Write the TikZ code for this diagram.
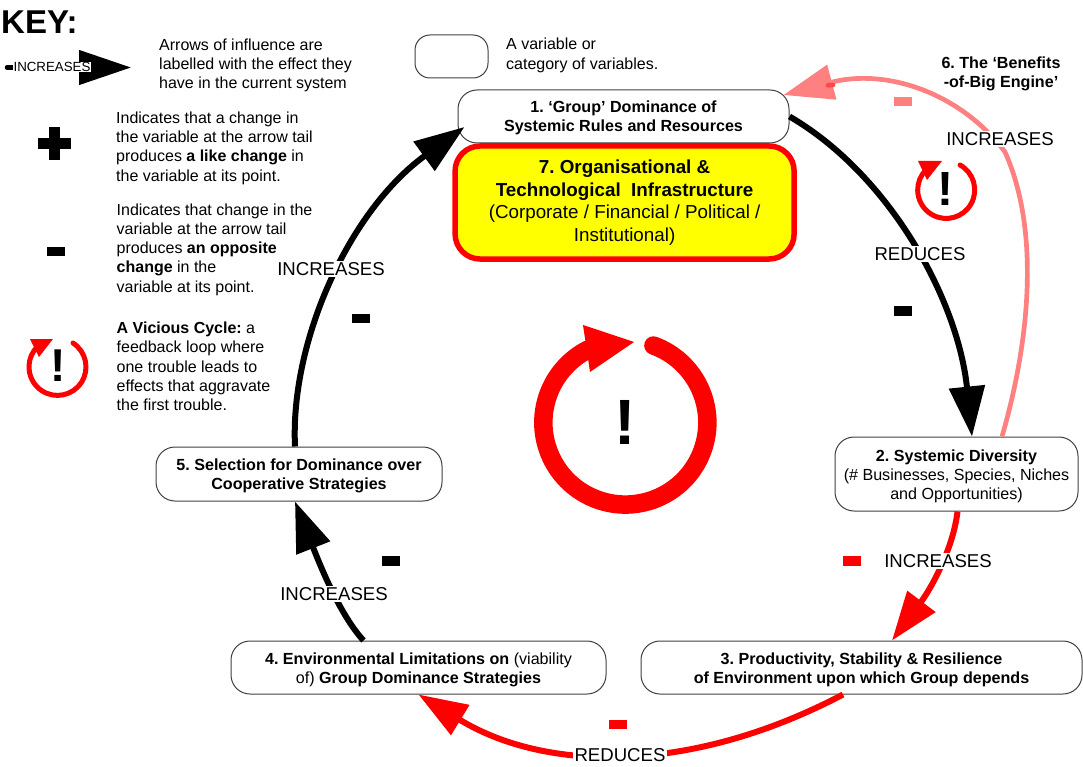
\documentclass[tikz,border=0pt]{standalone}
\usepackage{fontspec}
\setmainfont{Liberation Sans}
\usetikzlibrary{arrows.meta,calc}
\frenchspacing
\definecolor{pinkarrow}{HTML}{FF8080}
\definecolor{pinkdark}{HTML}{FF4848}
\definecolor{fillyellow}{HTML}{FFFF00}
\definecolor{pure red}{HTML}{FF0000}
\newcommand{\keytext}{\fontsize{16}{19.3}\selectfont}
\newcommand{\boxtext}{\fontsize{16.1}{19.3}\selectfont}
\newcommand{\labeltext}{\fontsize{18.6}{22}\selectfont}
\newcommand{\lowerA}{\rule{0pt}{15pt}}
\newcommand{\lowerB}{\rule{0pt}{16pt}}
\tikzset{
  varbox/.style={draw=black!75,line width=1pt,rounded corners=19pt,fill=white,inner sep=0pt,align=center,font=\boxtext},
  keynote/.style={anchor=west,align=left,inner sep=0pt,font=\keytext},
  effect/.style={fill=white,inner sep=1.5pt,font=\labeltext,text=black},
  blackarrow/.style={draw=black,line width=6pt,-{Triangle[length=50pt,width=35pt]}},
  redarrow/.style={draw=pure red,line width=6pt,-{Triangle[length=49pt,width=34pt]}},
  pinkline/.style={draw=pinkarrow,line width=4.7pt,-{Triangle[length=50pt,width=35pt]}},
  signbar/.style={draw=none,fill=#1,inner sep=0pt,minimum width=18pt,minimum height=9.5pt},
  signbar/.default=black,
  cycle/.style={draw=pure red,line cap=round},
}
\begin{document}
\begin{tikzpicture}[x=1pt,y=-1pt]
\useasboundingbox (0,0) rectangle (1083,767);
% boxes
\node[varbox,minimum width=73pt,minimum height=43pt,rounded corners=15pt] (keybox) at (451.5,56.5) {};
\node[varbox,minimum width=331pt,minimum height=53pt] (n1) at (623.5,116.5) {\lowerA\textbf{1. ‘Group’ Dominance of}\\\textbf{Systemic Rules and Resources}};
\node[varbox,draw=pure red,line width=5.5pt,fill=fillyellow,rounded corners=25pt,minimum width=339pt,minimum height=113pt,font=\fontsize{18.8}{22.5}\selectfont] (n7) at (624.6,202.5) {\textbf{7. Organisational \&}\\\textbf{Technological\ \ Infrastructure}\\(Corporate / Financial / Political /\\Institutional)};
\node[varbox,minimum width=243pt,minimum height=74pt] (n2) at (956.5,474) {\lowerB\textbf{2. Systemic Diversity}\\(\# Businesses, Species, Niches\\and Opportunities)};
\node[varbox,minimum width=441pt,minimum height=53pt] (n3) at (861.5,667.5) {\lowerB\textbf{3. Productivity, Stability \& Resilience}\\\textbf{of Environment upon which Group depends}};
\node[varbox,minimum width=375pt,minimum height=53pt] (n4) at (418.5,667.5) {\lowerB\textbf{4. Environmental Limitations on} (viability\\of) \textbf{Group Dominance Strategies}};
\node[varbox,minimum width=286pt,minimum height=54pt] (n5) at (299,474) {\lowerA\textbf{5. Selection for Dominance over}\\\textbf{Cooperative Strategies}};
\node[inner sep=0pt,align=center,font=\boxtext] (n6) at (1001,74) {\textbf{6. The ‘Benefits}\\\textbf{-of-Big Engine’}};
% connectors
\draw[blackarrow] (n1.east) .. controls (890,175) and (958,300) .. ($(n2.north)+(15.5,0)$);
\draw[redarrow] ($(n2.south)+(1,0)$) .. controls (953,550) and (930,590) .. ($(n3.north)+(30.5,0)$);
\draw[redarrow] ($(n3.south)+(-18.5,0)$) .. controls (690,775) and (545,772) .. (n4.south);
\draw[blackarrow] ($(n4.north)+(-55,0)$) .. controls (340,615) and (320,565) .. ($(n5.south)+(-4,0)$);
\draw[blackarrow] ($(n5.north)+(-4,0)$) .. controls (290,340) and (350,210) .. ($(n1.west)+(7,10.5)$);
\draw[pinkline] ($(n2.north)+(45.5,0)$) .. controls (1030,340) and (1040,230) .. (1005,152) .. controls (960,92) and (885,68) .. ($(n1.east)+(-6,-21.5)$);
\draw[pinkdark,line width=4.7pt,line cap=round] (828,85.3) -- (833,84.9);
% effect labels
\node[effect] (l12) at (920,254) {REDUCES};
\node[effect] (l23) at (938,561) {INCREASES};
\node[effect] (l34) at (620,755) {REDUCES};
\node[effect] (l45) at (334,594) {INCREASES};
\node[effect] (l51) at (331,269) {INCREASES};
\node[effect] (l26) at (1000,139) {INCREASES};
% signs
\node[signbar] (s12) at (902.5,311) {};
\node[signbar] (s51) at (360.5,318.5) {};
\node[signbar] (s45) at (390.5,561) {};
\node[signbar=pure red] (s23) at (851.5,561) {};
\node[signbar=pure red] (s34) at (617.5,724.5) {};
\node[signbar=pinkarrow] (s26) at (903,101.5) {};
% big cycle
\draw[cycle,line width=18.5pt] (653.4,345.5) arc[start angle=-70,end angle=243,radius=82];
\fill[pure red] (583,325) -- (634,342) -- (590,372) -- cycle;
\node[inner sep=0pt,font=\fontsize{64}{64}\selectfont\bfseries] (bang) at (625,422) {!};
% small cycle on the pink loop
\draw[cycle,line width=5pt] (960,165) arc[start angle=-61,end angle=225,radius=28.5];
\fill[pure red] (918,161) -- (942,161) -- (927,180) -- cycle;
\node[inner sep=0pt,font=\fontsize{48}{48}\selectfont\bfseries] (bang2) at (945.5,188.5) {!};
% key
\node[anchor=west,inner sep=0pt,font=\fontsize{33}{33}\selectfont\bfseries] (keytitle) at (1,22) {KEY:};
\coordinate (keytail) at (7,67.5);
\coordinate (keytip) at (131,67.5);
\draw[draw=black,line width=4.5pt,line cap=round,-{Triangle[length=52pt,width=34pt]}] (keytail) -- (keytip);
\node[fill=white,inner sep=0.5pt,font=\fontsize{13.3}{15}\selectfont] (keylabel) at (52,67) {INCREASES};
\node[keynote] (k1) at (159,65.5) {Arrows of influence are\\labelled with the effect they\\have in the current system};
\node[keynote] (k2) at (506,55.5) {A variable or\\category of variables.};
\fill[black] (38,138) rectangle (71,149);
\fill[black] (49,127) rectangle (60,160);
\node[keynote] (k3) at (116,148) {Indicates that a change in\\the variable at the arrow tail\\produces \textbf{a like change} in\\the variable at its point.};
\node[signbar] (k4sign) at (56,251.5) {};
\node[keynote] (k4) at (116.5,249.5) {Indicates that change in the\\variable at the arrow tail\\produces \textbf{an opposite}\\\textbf{change} in the\\variable at its point.};
\draw[cycle,line width=5pt] (73,343) arc[start angle=-57,end angle=225,radius=28.5];
\fill[pure red] (30,339) -- (53,339) -- (39,357) -- cycle;
\node[inner sep=0pt,font=\fontsize{46}{46}\selectfont\bfseries] (bang3) at (58,365.5) {!};
\node[keynote] (k5) at (116.5,366.5) {\textbf{A Vicious Cycle:} a\\feedback loop where\\one trouble leads to\\effects that aggravate\\the first trouble.};
\end{tikzpicture}
\end{document}
